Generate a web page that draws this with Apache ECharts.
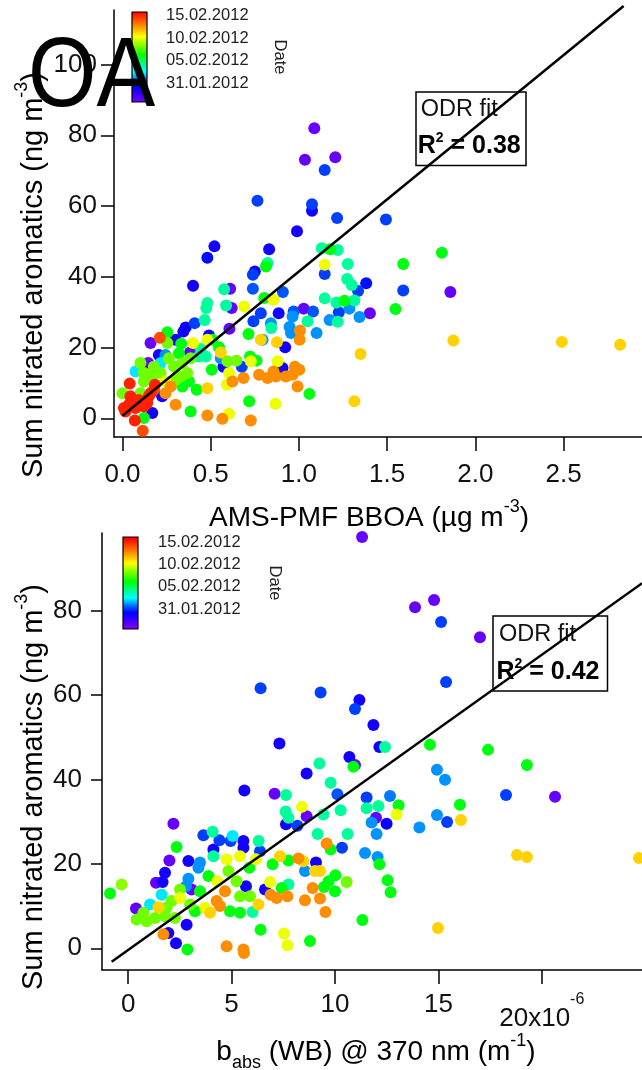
<!DOCTYPE html>
<html>
<head>
<meta charset="utf-8">
<script src="https://cdn.jsdelivr.net/npm/echarts@6/dist/echarts.min.js"></script>
<style>
  html, body { margin: 0; padding: 0; background: #fff; }
  #chart { width: 642px; height: 1070px; }
</style>
</head>
<body>
<div id="chart"></div>
<script>
// ---- Upper panel: AMS-PMF BBOA (µg m-3) vs. sum nitrated aromatics (ng m-3); date = day of 2012 ----
const bboa = [1.087,1.034,1.206,1.146,0.765,1.074,1.074,1.216,1.493,0.989,0.521,0.481,0.831,1.129,1.176,1.22,1.146,1.146,1.277,1.591,1.591,0.822,0.813,0.75,0.739,1.273,1.299,1.335,1.381,0.4,0.576,0.61,0.739,0.909,0.481,0.475,0.587,0.619,0.689,0.803,0.856,0.784,0.885,0.97,0.964,1.027,1.08,1.146,1.212,1.258,1.314,1.286,1.226,1.402,1.547,1.343,1.174,1.22,1.049,1.1,0.841,0.742,0.843,0.947,0.955,1.006,1.004,0.875,0.794,0.784,0.922,0.714,0.606,0.466,0.409,0.358,0.345,0.254,0.212,0.159,0.254,0.333,0.4,0.481,0.49,0.51,0.547,0.557,0.383,0.443,0.206,0.146,0.263,0.32,0.386,0.434,0.472,0.557,0.595,0.646,0.676,0.572,0.604,0.723,0.727,0.76,0.879,0.907,0.977,1.002,0.856,0.774,0.822,0.869,0.926,0.964,0.992,0.686,0.623,0.591,0.481,0.506,0.42,0.377,0.339,1.059,1.349,1.314,0.867,0.718,0.727,0.604,0.566,0.481,0.386,0.301,0.244,0.273,0.225,0.169,0.121,0.07,0.115,0.184,0.041,0.0,0.074,0.121,0.121,0.169,0.216,0.244,0.301,0.33,0.367,0.292,0.339,0.178,0.216,0.102,0.244,0.301,0.017,0.036,0.064,0.093,0.045,0.14,0.149,0.159,0.102,0.178,0.121,0.008,0.074,0.055,1.81,1.858,1.875,2.49,2.82];
const nitroTop = [82.0,73.1,73.8,70.2,61.5,60.5,58.7,56.6,56.2,52.9,48.6,45.4,47.8,48.1,47.8,47.6,43.4,40.8,43.6,43.6,36.1,43.9,42.9,41.5,40.6,39.4,37.7,36.0,38.2,37.5,36.5,36.6,36.6,35.7,32.6,31.2,31.9,31.2,31.6,34.0,33.5,29.7,29.7,30.2,28.8,31.0,30.2,33.9,32.7,33.2,33.3,31.0,30.0,29.7,30.9,28.6,27.8,27.3,27.4,24.1,26.9,27.4,25.5,25.8,24.1,24.8,22.2,21.5,22.2,22.2,20.1,23.8,25.3,27.8,26.9,25.7,24.5,24.3,22.8,21.3,21.3,21.1,21.3,22.2,23.4,22.2,20.1,18.6,18.6,19.6,17.9,15.6,17.0,18.4,17.0,17.5,17.5,17.0,16.1,16.3,14.6,14.6,12.8,17.5,16.1,16.3,16.1,14.2,14.6,13.7,13.2,12.3,11.4,11.8,11.8,12.3,9.0,11.4,10.4,9.5,8.5,13.7,8.1,10.4,9.0,6.9,18.2,4.8,4.1,4.8,-0.6,1.3,-0.1,0.8,1.9,3.8,7.1,9.0,6.2,1.5,0.1,-0.6,-3.5,9.5,9.8,7.1,13.2,12.8,10.4,11.8,12.8,10.4,10.9,11.8,12.8,14.6,15.6,14.6,15.6,15.6,17.9,22.2,1.9,3.8,4.3,5.2,6.2,4.3,6.2,7.1,7.1,8.1,3.3,2.9,2.9,5.4,46.8,35.7,22.0,21.6,20.8];
const dateTop = [27.5,27.5,27.5,31.2,31.2,31.2,29.8,31.2,31.2,29.8,29.8,30.5,29.8,35,37,35,41,31.2,35,37,31.2,35,37,29.8,31.2,35,35,31.2,30.5,29.8,35,27.5,31.5,31.5,35,35,35,27.5,41,37,41,31.2,29.8,31.5,32.3,27.5,31.5,35,35,37,35,32.3,31.2,27.5,37,32.3,32.3,35,35,32.3,32.3,31.2,35,32.3,32.3,43.6,43.6,42.2,32.3,42.2,29.8,37,27.5,35,31.2,30,29.8,37,45,27.5,39,37,41,41,29.8,37,37,42.2,27.5,35,29.8,27.5,39,37,39,35,35,32.3,39,39,31.2,29.8,41,37,41,37,41,29.8,43.6,43.6,43.6,43.6,43.6,43.6,43.6,43.6,43.6,43.6,43.6,41,42.2,37,37,37,37,37,42.2,42.2,41,37,43.6,41,43.6,43.6,37,43.6,43.6,43.6,29.8,29.8,37,46,45,46,46,39,33.3,39,39,39,39,41,39,39,39,39,39,39,33.3,39,32.3,29.8,46,46,46,46,46,46,46,46,39,45,46,46,46,46,37,27.5,42.2,42.2,42.2];

// ---- Lower panel: b_abs (WB) @ 370 nm in 1e-6 m-1 vs. sum nitrated aromatics ----
const babs = [6.402,9.304,11.18,10.967,11.857,7.311,12.147,12.418,9.246,10.696,10.967,10.89,8.627,9.787,5.619,7.079,7.63,10.116,11.528,12.659,13.075,12.978,12.099,11.528,10.271,8.404,7.611,7.747,7.63,8.627,8.182,9.439,11.982,11.77,12.495,12.011,9.159,10.609,9.594,9.787,10.338,11.451,12.06,12.147,12.543,12.688,11.325,8.791,7.698,7.534,6.402,5.6,5.571,4.758,2.863,2.311,2.824,1.944,1.702,-0.88,-0.319,2.186,2.34,1.992,1.78,1.344,1.663,0.377,3.636,4.081,4.41,5.048,4.952,5.571,6.306,4.12,4.12,5.406,6.18,6.373,5.571,4.758,2.911,3.472,3.395,2.911,2.795,3.066,3.878,4.313,4.845,5.242,5.696,5.861,6.982,7.34,7.747,8.23,8.472,9.081,8.549,9.033,9.275,10.019,10.561,9.69,9.468,10.0,8.917,9.275,8.549,9.536,7.747,7.418,6.857,6.615,6.886,7.176,7.698,6.296,6.015,5.406,5.406,5.89,4.681,4.275,4.439,3.956,3.714,3.23,4.923,2.505,2.099,2.988,1.615,1.054,1.46,0.406,0.89,1.296,1.78,2.263,1.857,0.735,2.505,3.472,14.081,11.31,13.87,14.79,17.01,15.13,15.37,14.59,14.93,15.32,16.04,14.93,15.42,17.4,18.27,16.09,20.64,19.28,18.8,19.28,24.7,14.98];
const nitroBottom = [61.6,60.6,58.8,56.7,52.9,48.5,47.7,47.7,43.8,45.3,43.4,43.0,41.4,39.2,37.4,36.6,36.3,36.5,35.7,36.1,33.9,31.7,33.7,33.2,32.7,33.5,32.4,30.9,29.4,31.3,29.0,31.7,30.9,29.8,29.5,27.1,27.1,27.1,24.8,23.4,23.8,22.6,21.6,19.9,16.1,13.3,6.7,1.7,0.7,3.5,4.4,-1.1,-0.3,0.5,-0.3,1.2,5.6,3.6,3.3,13.0,15.1,29.5,24.0,20.8,17.9,15.5,15.7,9.4,26.8,27.6,25.6,26.6,25.4,25.4,25.4,23.4,21.8,21.8,21.1,23.0,23.8,21.1,20.7,20.3,19.1,16.5,14.7,13.9,17.1,15.9,18.3,15.9,14.7,19.1,19.9,21.8,20.8,21.3,20.6,20.3,18.3,18.3,18.3,17.3,15.7,15.9,14.5,13.5,14.3,11.8,11.4,8.6,15.1,14.3,15.7,13.9,12.7,11.9,12.3,10.4,8.6,8.4,12.3,12.3,13.5,11.2,10.0,8.4,9.6,8.8,8.8,11.9,11.2,10.4,12.7,10.4,9.7,6.8,6.4,7.2,7.6,7.2,9.6,8.4,13.9,13.5,28.6,97.4,80.8,82.5,73.7,77.3,63.1,48.2,42.3,39.9,34.0,31.6,29.9,47.0,36.3,30.4,35.9,43.4,22.1,21.6,21.4,4.8];
const dateBottom = [31.2,31.2,29.8,31.2,29.8,29.8,29.8,35,35,29.8,27.5,37,29.8,35,29.8,27.5,35,31.5,31.2,32,37,41,35,35,35,41,35,35,29.8,27.5,31.2,35,27.5,32.3,30,32.3,35,35,43.6,37,31.2,32.3,32.3,37,37,37,37,37,41,41,37,43.6,43.6,43.6,37,29.8,29.8,29.8,43.6,37,39.5,27.5,37,27.5,29.8,27.5,29.8,27.5,31.2,35,31.2,33.3,31.2,29.8,35,29.8,35,41,41,31.2,29.8,41,29.8,32.3,32.3,32.3,32.3,27.5,37,41,39,39,29.8,37,37,42.2,37,43.6,42.2,29.8,32.3,42.2,42.2,37,39,37,37,37,43.6,43.6,43.6,43.6,35,37,41,29.8,43.6,43.6,43.6,42.2,35,37,39,39,43.6,43.6,43.6,42.2,41,37,37,41,39,39,33.3,33.3,42.2,39,39,39,39,39,39,39,39,37,32.3,27.5,27.5,27.5,27.5,31.2,31.2,37,32.3,32.3,37,32.3,31.2,37,31.2,42.2,27.5,37,42.2,42.2,42.2,42.2];

// ---- Ticks, colour scale and fit results ----
const bboaTicks = [0, 0.5, 1, 1.5, 2, 2.5];
const babsTicks = [0, 5, 10, 15, 20];
const nitroTicksTop = [0, 20, 40, 60, 80, 100];
const nitroTicksBottom = [0, 20, 40, 60, 80];
const dateTickDays = [31, 36, 41, 46];
const dateTickLabels = ['31.01.2012', '05.02.2012', '10.02.2012', '15.02.2012'];
const dateScaleTop = [26.95, 46.73];
const dateScaleBottom = [26.56, 47.2];
const fitTop = { slope: 40.8, intercept: 0.7, from: 0, to: 2.84, r2: '0.38' };
const fitBottom = { slope: 3.495, intercept: -0.37, from: -0.8, to: 24.85, r2: '0.42' };

const FONT = '"Liberation Sans", Arial, Helvetica, sans-serif';
const INK = '#111';

// rainbow scale from violet (oldest) to red (newest), positions along the colour bar
const colourStops = [
  [0.000, [122, 0, 255]],
  [0.170, [0, 0, 255]],
  [0.250, [0, 112, 255]],
  [0.335, [0, 255, 255]],
  [0.520, [0, 255, 0]],
  [0.725, [255, 255, 0]],
  [0.855, [255, 128, 0]],
  [1.000, [255, 0, 0]]
];
function dateColour(day) {
  let f = (day - dateScaleTop[0]) / (dateScaleTop[1] - dateScaleTop[0]);
  f = Math.max(0, Math.min(1, f));
  for (let i = 1; i < colourStops.length; i++) {
    const [f1, c1] = colourStops[i];
    const [f0, c0] = colourStops[i - 1];
    if (f <= f1) {
      const t = (f - f0) / (f1 - f0);
      const c = c0.map((v, k) => Math.round(v + (c1[k] - v) * t));
      return 'rgb(' + c.join(',') + ')';
    }
  }
  return 'rgb(255,0,0)';
}
function barGradient(lo, hi) {
  const stops = [];
  const n = 80;
  for (let i = 0; i <= n; i++) {
    stops.push({ offset: i / n, color: dateColour(hi - (hi - lo) * i / n) });
  }
  return new echarts.graphic.LinearGradient(0, 0, 0, 1, stops);
}

// oldest samples first, so later ones are painted on top
function points(xs, ys, ds) {
  return xs.map((x, i) => [x, ys[i], ds[i]]).sort((a, b) => a[2] - b[2]);
}
function fitLine(fit) {
  return [[fit.from, fit.intercept + fit.slope * fit.from], [fit.to, fit.intercept + fit.slope * fit.to]];
}

const chart = echarts.init(document.getElementById('chart'), null, { renderer: 'canvas' });

const axisLineStyle = { color: '#000', width: 1.5 };
function valueX(grid, min, max, ticks, fmt, margin, rich) {
  return {
    type: 'value', gridIndex: grid, min: min, max: max,
    splitLine: { show: false },
    axisLine: { show: true, onZero: false, lineStyle: axisLineStyle },
    axisTick: { show: true, customValues: ticks, length: 14, lineStyle: axisLineStyle },
    axisLabel: { customValues: ticks, formatter: fmt, fontSize: 26, fontFamily: FONT, color: INK, margin: margin, rich: rich }
  };
}
function valueY(grid, min, max, ticks, tickLen, margin) {
  return {
    type: 'value', gridIndex: grid, min: min, max: max,
    splitLine: { show: false },
    axisLine: { show: true, onZero: false, lineStyle: axisLineStyle },
    axisTick: { show: true, customValues: ticks, length: tickLen, lineStyle: axisLineStyle },
    axisLabel: { customValues: ticks, formatter: v => String(v), fontSize: 26, fontFamily: FONT, color: INK, margin: margin }
  };
}
function barAxisY(grid, range, gap, margin) {
  return {
    type: 'value', gridIndex: grid, position: 'right', min: range[0], max: range[1],
    splitLine: { show: false },
    axisLine: { show: false },
    axisTick: { show: true, customValues: dateTickDays, length: 12, lineStyle: { color: '#000', width: 1.5 } },
    axisLabel: { customValues: dateTickDays, formatter: v => dateTickLabels[dateTickDays.indexOf(v)], fontSize: 16.5, fontFamily: FONT, color: '#222', margin: margin },
    name: 'Date', nameLocation: 'middle', nameRotate: -90, nameGap: gap,
    nameTextStyle: { fontSize: 16.5, fontFamily: FONT, color: '#222' }
  };
}
function colourBar(xi, yi, range) {
  return {
    type: 'custom', xAxisIndex: xi, yAxisIndex: yi, silent: true, z: 5,
    data: [[0, range[0], range[1]]],
    renderItem: (params, api) => {
      const p0 = api.coord([0, api.value(2)]);
      const p1 = api.coord([1, api.value(1)]);
      return {
        type: 'rect',
        shape: { x: p0[0], y: p0[1], width: p1[0] - p0[0], height: p1[1] - p0[1] },
        style: { fill: barGradient(api.value(1), api.value(2)), stroke: '#000', lineWidth: 1.2 }
      };
    }
  };
}
function scatter(xi, yi, data) {
  return {
    type: 'scatter', xAxisIndex: xi, yAxisIndex: yi, data: data, symbolSize: 12, z: 2,
    itemStyle: { color: p => dateColour(p.value[2]), opacity: 1 }, silent: true
  };
}
function fitSeries(xi, yi, fit) {
  return {
    type: 'line', xAxisIndex: xi, yAxisIndex: yi, data: fitLine(fit), symbol: 'none', clip: false, z: 3,
    lineStyle: { color: '#000', width: 2.5 }, silent: true
  };
}

function titleRich(size) {
  return {
    n: { fontSize: size, fontFamily: FONT, color: INK, lineHeight: size + 12, verticalAlign: 'middle' },
    s: { fontSize: 18, fontFamily: FONT, color: INK, lineHeight: 18, verticalAlign: 'top' },
    b: { fontSize: 18, fontFamily: FONT, color: INK, lineHeight: 18, verticalAlign: 'bottom' }
  };
}
function titleText(x, y, text, size, rotate) {
  return {
    type: 'text', x: x, y: y, rotation: rotate ? Math.PI / 2 : 0, z: 10,
    style: { text: text, rich: titleRich(size), align: 'center', verticalAlign: 'middle', textAlign: 'center', textVerticalAlign: 'middle' }
  };
}
function fitBox(x, y, w, h, r2, t1, t2) {
  return {
    type: 'group', x: x, y: y, z: 20,
    children: [
      { type: 'rect', shape: { x: 0, y: 0, width: w, height: h }, style: { fill: '#fff', stroke: '#000', lineWidth: 1.5 } },
      { type: 'text', x: t1[0], y: t1[1], style: { text: 'ODR fit', fontSize: 23.5, fontFamily: FONT, fill: INK, verticalAlign: 'middle', textVerticalAlign: 'middle' } },
      { type: 'text', x: t2[0], y: t2[1], style: {
          text: '{r|R}{s|2}{r| = ' + r2 + '}', verticalAlign: 'middle', textVerticalAlign: 'middle',
          rich: {
            r: { fontSize: 25, fontWeight: 'bold', fontFamily: FONT, color: INK, lineHeight: 30, verticalAlign: 'middle' },
            s: { fontSize: 14, fontWeight: 'bold', fontFamily: FONT, color: INK, lineHeight: 14, verticalAlign: 'top' }
          } } }
    ]
  };
}

const option = {
  backgroundColor: '#fff',
  animation: false,
  grid: [
    { left: 114, top: 10, width: 528, height: 427 },
    { left: 102, top: 533, width: 540, height: 437 },
    { left: 132, top: 12, width: 15, height: 90 },
    { left: 123, top: 537, width: 15, height: 92 }
  ],
  xAxis: [
    valueX(0, -0.048, 2.944, bboaTicks, v => v.toFixed(1), 25),
    valueX(1, -1.267, 24.845, babsTicks, v => v === 20 ? '{n|20x10}{e|-6}' : String(v), 21.5, {
      n: { fontSize: 26, fontFamily: FONT, color: INK, lineHeight: 55, verticalAlign: 'middle' },
      e: { fontSize: 16, fontFamily: FONT, color: INK, lineHeight: 27, verticalAlign: 'top' }
    }),
    { type: 'value', gridIndex: 2, min: 0, max: 1, show: false },
    { type: 'value', gridIndex: 3, min: 0, max: 1, show: false }
  ],
  yAxis: [
    valueY(0, -5.29, 115.42, nitroTicksTop, 13, 17),
    valueY(1, -5.14, 98.37, nitroTicksBottom, 11, 20),
    barAxisY(2, dateScaleTop, 124, 19),
    barAxisY(3, dateScaleBottom, 128, 20)
  ],
  series: [
    scatter(0, 0, points(bboa, nitroTop, dateTop)),
    fitSeries(0, 0, fitTop),
    scatter(1, 1, points(babs, nitroBottom, dateBottom)),
    fitSeries(1, 1, fitBottom),
    colourBar(2, 2, dateScaleTop),
    colourBar(3, 3, dateScaleBottom)
  ],
  graphic: [
    { type: 'text', x: 28, y: 79, z: 15, scaleX: 0.89,
      style: { text: 'OA', fontSize: 99, fontFamily: FONT, fill: '#000', verticalAlign: 'middle', textVerticalAlign: 'middle' } },
    titleText(34, 275, '{n|Sum nitrated aromatics (ng m}{s|-3}{n|)}', 29, true),
    titleText(369, 518, '{n|AMS-PMF BBOA (µg m}{s|-3}{n|)}', 28, false),
    titleText(34, 787, '{n|Sum nitrated aromatics (ng m}{s|-3}{n|)}', 29, true),
    titleText(376, 1052, '{n|b}{b|abs}{n| (WB) @ 370 nm (m}{s|-1}{n|)}', 28, false),
    fitBox(416, 92, 110, 73.5, fitTop.r2, [4.7, 18], [1.7, 54]),
    fitBox(493, 616, 114.5, 75, fitBottom.r2, [6, 18.7], [3.5, 56])
  ]
};
chart.setOption(option);
</script>
</body>
</html>
